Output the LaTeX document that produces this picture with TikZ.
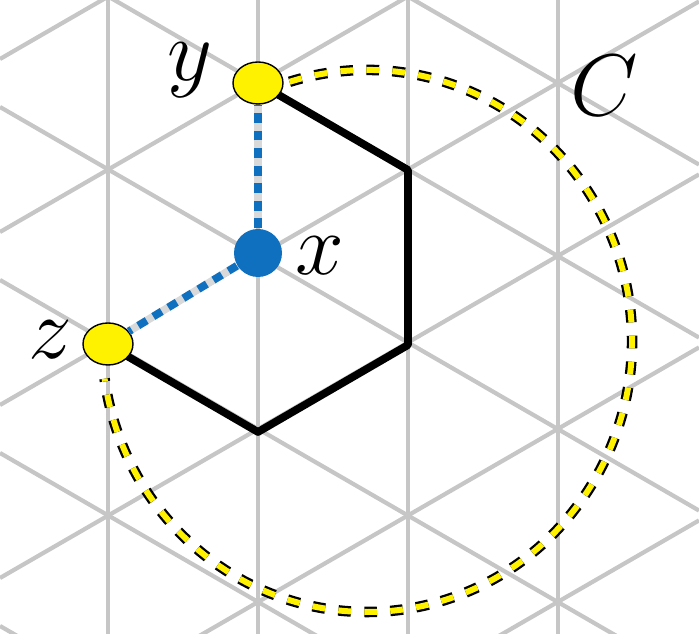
\documentclass[tikz,border=0pt]{standalone}
\usetikzlibrary{shapes.geometric}
\newlength{\pxlen}
\setlength{\pxlen}{0.01cm}
\definecolor{siteblue}{RGB}{16,112,192}
\tikzset{
  site/.style={ellipse, draw=black, fill=yellow, minimum width=50\pxlen, minimum height=42\pxlen, inner sep=0pt},
  lbl/.style={font=\fontsize{46}{50}\selectfont\itshape},
}
\begin{document}
\begin{tikzpicture}[x=0.01cm,y=-0.01cm]
    \useasboundingbox (0,0) rectangle (699,634);
    % Red triangular
    \begin{scope}
    \clip (0,0) rectangle (699,634);
    \foreach \x in {108,258,408,558}
        \draw[gray!45, line width=1.2pt] (\x,0) -- (\x,634);
    \foreach \c in {-585,-412,-239,-66,107,280,453,626}
        \draw[gray!45, line width=1.2pt] (0,\c) -- (699,{\c+0.57735*699});
    \foreach \c in {-114,59,232,405,578,751,924,1097}
        \draw[gray!45, line width=1.2pt] (0,\c) -- (699,{\c-0.57735*699});
    \end{scope}

    % Camino C
    \draw[black, line width=3pt, dash pattern=on 3.6pt off 3.8pt]
        (367,341) ++(-107:265 and 271) arc[start angle=-107, end angle=172, x radius=265, y radius=271];
    \draw[yellow, line width=1.7pt, dash pattern=on 3.6pt off 3.8pt]
        (367,341) ++(-107:265 and 271) arc[start angle=-107, end angle=172, x radius=265, y radius=271];

    % Hexagono
    \draw[line width=2.2pt, line join=round] (258,83) -- (408,170) -- (408,345) -- (258,432) -- (108,345);

    % Nodos
    \node[circle, fill=siteblue, minimum size=48\pxlen, inner sep=0pt] (x) at (258,253) {};
    \node[site] (y) at (258,83) {};
    \node[site] (z) at (108,344) {};

    \draw[gray!30, line width=2.2pt] (x) -- (y);
    \draw[siteblue, line width=2.2pt, dash pattern=on 2.8pt off 2.2pt] (x) -- (y);
    \draw[gray!30, line width=2.2pt] (x) -- (z);
    \draw[siteblue, line width=2.2pt, dash pattern=on 2.8pt off 2.2pt] (x) -- (z);

    % Etiquetas
    \node[lbl] (ly) at (190,70) {$y$};
    \node[lbl] (lx) at (320,256) {$x$};
    \node[lbl] (lz) at (50,340) {$z$};
    \node[lbl] (lc) at (604,86) {$C$};
\end{tikzpicture}
\end{document}
